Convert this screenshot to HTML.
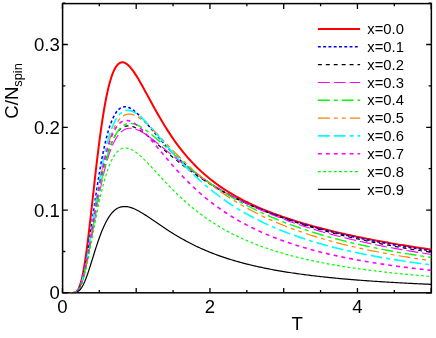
<!DOCTYPE html>
<html><head><meta charset="utf-8"><title>C/Nspin vs T</title>
<style>
html,body{margin:0;padding:0;background:#fff;}
svg{display:block;will-change:transform;}
text{font-family:"Liberation Sans",sans-serif;fill:#000;}
.tl{font-size:18.6px;}
.lg{font-size:14.8px;}
</style></head><body>
<svg width="436" height="338" viewBox="0 0 436 338">
<rect width="436" height="338" fill="#fff"/>
<defs><clipPath id="cp"><rect x="61.85" y="2.85" width="370.25" height="290.70"/></clipPath></defs>
<g fill="none">
<path d="M317.9 29.00 H360.1" stroke="#ff0000" stroke-width="2.0"/>
<path d="M317.9 46.82 H360.1" stroke="#0000ff" stroke-width="1.55" stroke-dasharray="2.9 2.38"/>
<path d="M317.9 64.64 H360.1" stroke="#000000" stroke-width="1.15" stroke-dasharray="3.96 3.96"/>
<path d="M317.9 82.46 H360.1" stroke="#ff00ff" stroke-width="1.1" stroke-dasharray="11.89 3.96"/>
<path d="M317.9 100.28 H360.1" stroke="#00ff00" stroke-width="1.4" stroke-dasharray="11.88 3.96 3.96 3.94"/>
<path d="M317.9 118.10 H360.1" stroke="#ff8000" stroke-width="1.2" stroke-dasharray="11.92 3.98 3.98 3.98 3.98 3.98"/>
<path d="M317.9 135.92 H360.1" stroke="#00ffff" stroke-width="1.6" stroke-dasharray="11.88 3.96 11.88 3.96 3.96 3.95"/>
<path d="M317.9 153.74 H360.1" stroke="#ff00ff" stroke-width="1.6" stroke-dasharray="3.96 3.96"/>
<path d="M317.9 171.56 H360.1" stroke="#00ff00" stroke-width="1.2" stroke-dasharray="2.9 2.38"/>
<path d="M317.9 189.38 H360.1" stroke="#000000" stroke-width="1.2"/>
</g>
<rect x="62.60" y="3.60" width="368.75" height="289.20" fill="none" stroke="#000" stroke-width="1.5"/>
<path d="M62.45 292.80 v-4.90 M62.45 3.60 v5.40 M99.33 292.80 v-2.70 M99.33 3.60 v2.70 M136.20 292.80 v-4.90 M136.20 3.60 v5.40 M173.07 292.80 v-2.70 M173.07 3.60 v2.70 M209.95 292.80 v-4.90 M209.95 3.60 v5.40 M246.82 292.80 v-2.70 M246.82 3.60 v2.70 M283.70 292.80 v-4.90 M283.70 3.60 v5.40 M320.57 292.80 v-2.70 M320.57 3.60 v2.70 M357.45 292.80 v-4.90 M357.45 3.60 v5.40 M394.32 292.80 v-2.70 M394.32 3.60 v2.70 M431.20 292.80 v-4.90 M431.20 3.60 v5.40 M62.60 292.90 h5.20 M431.35 292.90 h-5.20 M62.60 251.50 h2.70 M431.35 251.50 h-2.70 M62.60 210.10 h5.20 M431.35 210.10 h-5.20 M62.60 168.70 h2.70 M431.35 168.70 h-2.70 M62.60 127.30 h5.20 M431.35 127.30 h-5.20 M62.60 85.90 h2.70 M431.35 85.90 h-2.70 M62.60 44.50 h5.20 M431.35 44.50 h-5.20 M62.60 3.10 h2.70 M431.35 3.10 h-2.70" stroke="#000" stroke-width="1.3" fill="none"/>
<g fill="none" stroke-linejoin="round" clip-path="url(#cp)">
<path d="M70.23 292.90 L71.70 292.89 L73.18 292.83 L74.65 292.58 L76.13 291.88 L77.60 290.39 L79.08 287.76 L80.55 283.69 L82.03 278.01 L83.50 270.68 L84.98 261.78 L86.45 251.49 L87.93 240.04 L89.40 227.71 L90.88 214.79 L92.35 201.56 L93.83 188.29 L95.30 175.19 L96.78 162.46 L98.25 150.28 L99.73 138.75 L101.20 127.99 L102.68 118.05 L104.15 108.97 L105.63 100.78 L107.10 93.48 L108.58 87.05 L110.05 81.47 L111.53 76.70 L113.00 72.70 L114.48 69.43 L115.95 66.84 L117.43 64.89 L118.90 63.51 L120.38 62.66 L121.85 62.29 L123.33 62.36 L124.80 62.82 L126.28 63.63 L127.75 64.76 L129.23 66.15 L130.70 67.79 L132.18 69.64 L133.65 71.66 L135.13 73.84 L136.60 76.15 L138.08 78.57 L139.55 81.08 L141.03 83.65 L142.50 86.29 L143.98 88.96 L145.45 91.66 L146.93 94.38 L148.40 97.10 L149.88 99.82 L151.35 102.54 L152.83 105.23 L154.30 107.91 L155.78 110.55 L157.25 113.17 L158.73 115.75 L160.20 118.30 L161.68 120.80 L163.15 123.26 L164.63 125.68 L166.10 128.05 L167.58 130.38 L169.05 132.66 L170.53 134.89 L172.00 137.07 L173.48 139.21 L174.95 141.30 L176.43 143.34 L177.90 145.34 L179.38 147.29 L180.85 149.20 L182.33 151.06 L183.80 152.88 L185.28 154.66 L186.75 156.39 L188.23 158.08 L189.70 159.73 L191.18 161.35 L192.65 162.92 L194.13 164.46 L195.60 165.96 L197.08 167.43 L198.55 168.86 L200.03 170.26 L201.50 171.63 L202.98 172.96 L204.45 174.27 L205.93 175.54 L207.40 176.79 L208.88 178.01 L210.35 179.20 L211.83 180.37 L213.30 181.51 L214.78 182.62 L216.25 183.71 L217.73 184.78 L219.20 185.83 L220.68 186.85 L222.15 187.86 L223.63 188.84 L225.10 189.80 L226.58 190.75 L228.05 191.67 L229.53 192.58 L231.00 193.47 L232.48 194.34 L233.95 195.20 L235.43 196.04 L236.90 196.87 L238.38 197.68 L239.85 198.47 L241.33 199.26 L242.80 200.02 L244.28 200.78 L245.75 201.52 L247.23 202.25 L248.70 202.97 L250.18 203.68 L251.65 204.37 L253.13 205.06 L254.60 205.73 L256.08 206.39 L257.55 207.04 L259.03 207.69 L260.50 208.32 L261.98 208.94 L263.45 209.56 L264.93 210.16 L266.40 210.76 L267.88 211.35 L269.35 211.93 L270.83 212.50 L272.30 213.07 L273.78 213.62 L275.25 214.17 L276.73 214.71 L278.20 215.25 L279.68 215.78 L281.15 216.30 L282.63 216.82 L284.10 217.32 L285.57 217.83 L287.05 218.32 L288.53 218.81 L290.00 219.30 L291.48 219.78 L292.95 220.25 L294.43 220.72 L295.90 221.18 L297.38 221.64 L298.85 222.09 L300.33 222.54 L301.80 222.98 L303.28 223.42 L304.75 223.85 L306.23 224.28 L307.70 224.70 L309.18 225.12 L310.65 225.54 L312.13 225.95 L313.60 226.36 L315.08 226.76 L316.55 227.16 L318.03 227.55 L319.50 227.94 L320.98 228.33 L322.45 228.71 L323.93 229.09 L325.40 229.47 L326.88 229.84 L328.35 230.21 L329.82 230.57 L331.30 230.93 L332.78 231.29 L334.25 231.65 L335.73 232.00 L337.20 232.35 L338.68 232.69 L340.15 233.04 L341.62 233.37 L343.10 233.71 L344.58 234.04 L346.05 234.37 L347.53 234.70 L349.00 235.03 L350.48 235.35 L351.95 235.67 L353.43 235.98 L354.90 236.30 L356.38 236.61 L357.85 236.92 L359.32 237.22 L360.80 237.53 L362.27 237.83 L363.75 238.13 L365.23 238.42 L366.70 238.72 L368.18 239.01 L369.65 239.30 L371.12 239.58 L372.60 239.87 L374.07 240.15 L375.55 240.43 L377.03 240.71 L378.50 240.98 L379.98 241.26 L381.45 241.53 L382.93 241.80 L384.40 242.06 L385.88 242.33 L387.35 242.59 L388.83 242.85 L390.30 243.11 L391.78 243.37 L393.25 243.62 L394.73 243.88 L396.20 244.13 L397.68 244.38 L399.15 244.62 L400.62 244.87 L402.10 245.11 L403.57 245.36 L405.05 245.60 L406.52 245.83 L408.00 246.07 L409.47 246.31 L410.95 246.54 L412.42 246.77 L413.90 247.00 L415.38 247.23 L416.85 247.46 L418.32 247.68 L419.80 247.90 L421.27 248.13 L422.75 248.35 L424.22 248.56 L425.70 248.78 L427.18 249.00 L428.65 249.21 L430.12 249.42 L431.60 249.63" stroke="#ff0000" stroke-width="2.0"/>
<path d="M71.30 292.89 L71.30 292.89 L72.78 292.85 L74.25 292.65 L75.73 292.12 L77.20 290.97 L78.68 288.95 L80.15 285.81 L81.62 281.44 L83.10 275.80 L84.58 268.94 L86.05 261.01 L87.53 252.17 L89.00 242.65 L90.47 232.65 L91.95 222.40 L93.43 212.08 L94.90 201.87 L96.38 191.92 L97.85 182.35 L99.33 173.25 L100.80 164.70 L102.28 156.75 L103.75 149.43 L105.23 142.76 L106.70 136.74 L108.18 131.35 L109.65 126.60 L111.12 122.44 L112.60 118.86 L114.08 115.81 L115.55 113.28 L117.03 111.21 L118.50 109.58 L119.98 108.35 L121.45 107.49 L122.93 106.96 L124.40 106.74 L125.88 106.78 L127.35 107.07 L128.83 107.57 L130.30 108.27 L131.78 109.14 L133.25 110.15 L134.73 111.30 L136.20 112.56 L137.68 113.91 L139.15 115.35 L140.63 116.86 L142.10 118.43 L143.58 120.04 L145.05 121.69 L146.53 123.37 L148.00 125.07 L149.48 126.79 L150.95 128.52 L152.43 130.25 L153.90 131.98 L155.38 133.70 L156.85 135.42 L158.33 137.13 L159.80 138.82 L161.28 140.50 L162.75 142.16 L164.23 143.81 L165.70 145.43 L167.18 147.03 L168.65 148.60 L170.13 150.16 L171.60 151.69 L173.08 153.20 L174.55 154.68 L176.03 156.14 L177.50 157.57 L178.98 158.98 L180.45 160.36 L181.93 161.72 L183.40 163.06 L184.88 164.37 L186.35 165.66 L187.83 166.93 L189.30 168.17 L190.78 169.40 L192.25 170.60 L193.73 171.77 L195.20 172.93 L196.68 174.07 L198.15 175.19 L199.62 176.28 L201.10 177.36 L202.58 178.42 L204.05 179.46 L205.53 180.49 L207.00 181.50 L208.48 182.48 L209.95 183.46 L211.43 184.41 L212.90 185.36 L214.38 186.28 L215.85 187.19 L217.33 188.09 L218.80 188.97 L220.28 189.84 L221.75 190.70 L223.23 191.54 L224.70 192.37 L226.18 193.18 L227.65 193.99 L229.13 194.78 L230.60 195.56 L232.08 196.33 L233.55 197.09 L235.03 197.84 L236.50 198.58 L237.98 199.31 L239.45 200.02 L240.93 200.73 L242.40 201.43 L243.88 202.12 L245.35 202.80 L246.83 203.47 L248.30 204.13 L249.78 204.79 L251.25 205.43 L252.73 206.07 L254.20 206.70 L255.68 207.32 L257.15 207.94 L258.63 208.55 L260.10 209.15 L261.58 209.74 L263.05 210.33 L264.53 210.90 L266.00 211.48 L267.48 212.04 L268.95 212.60 L270.43 213.16 L271.90 213.70 L273.38 214.25 L274.85 214.78 L276.33 215.31 L277.80 215.83 L279.28 216.35 L280.75 216.86 L282.23 217.37 L283.70 217.87 L285.18 218.37 L286.65 218.86 L288.13 219.35 L289.60 219.83 L291.08 220.31 L292.55 220.78 L294.03 221.25 L295.50 221.71 L296.98 222.17 L298.45 222.62 L299.93 223.07 L301.40 223.51 L302.88 223.95 L304.35 224.39 L305.83 224.82 L307.30 225.25 L308.78 225.67 L310.25 226.09 L311.73 226.51 L313.20 226.92 L314.68 227.33 L316.15 227.73 L317.63 228.14 L319.10 228.53 L320.58 228.93 L322.05 229.32 L323.53 229.70 L325.00 230.09 L326.48 230.47 L327.95 230.84 L329.43 231.22 L330.90 231.59 L332.38 231.95 L333.85 232.32 L335.33 232.68 L336.80 233.03 L338.28 233.39 L339.75 233.74 L341.23 234.09 L342.70 234.43 L344.18 234.77 L345.65 235.11 L347.13 235.45 L348.60 235.78 L350.08 236.11 L351.55 236.44 L353.03 236.76 L354.50 237.09 L355.98 237.41 L357.45 237.72 L358.93 238.04 L360.40 238.35 L361.88 238.66 L363.35 238.97 L364.83 239.27 L366.30 239.57 L367.78 239.87 L369.25 240.17 L370.73 240.47 L372.20 240.76 L373.68 241.05 L375.15 241.34 L376.63 241.62 L378.10 241.90 L379.58 242.18 L381.05 242.46 L382.53 242.74 L384.00 243.01 L385.48 243.29 L386.95 243.56 L388.43 243.83 L389.90 244.09 L391.38 244.36 L392.85 244.62 L394.33 244.88 L395.80 245.13 L397.28 245.39 L398.75 245.64 L400.22 245.90 L401.70 246.15 L403.18 246.39 L404.65 246.64 L406.12 246.89 L407.60 247.13 L409.07 247.37 L410.55 247.61 L412.02 247.85 L413.50 248.08 L414.98 248.31 L416.45 248.55 L417.93 248.78 L419.40 249.01 L420.88 249.23 L422.35 249.46 L423.82 249.68 L425.30 249.90 L426.78 250.12 L428.25 250.34 L429.73 250.56 L431.20 250.77" stroke="#0000ff" stroke-width="1.55" stroke-dasharray="2.9 2.38" stroke-dashoffset="1.475"/>
<path d="M71.30 292.89 L71.30 292.89 L72.78 292.85 L74.25 292.69 L75.73 292.23 L77.20 291.26 L78.68 289.53 L80.15 286.86 L81.62 283.13 L83.10 278.32 L84.58 272.46 L86.05 265.68 L87.53 258.13 L89.00 249.98 L90.47 241.41 L91.95 232.60 L93.43 223.72 L94.90 214.90 L96.38 206.28 L97.85 197.95 L99.33 190.00 L100.80 182.48 L102.28 175.44 L103.75 168.91 L105.23 162.91 L106.70 157.43 L108.18 152.48 L109.65 148.03 L111.12 144.08 L112.60 140.60 L114.08 137.56 L115.55 134.95 L117.03 132.73 L118.50 130.87 L119.98 129.36 L121.45 128.15 L122.93 127.23 L124.40 126.57 L125.88 126.15 L127.35 125.93 L128.83 125.92 L130.30 126.07 L131.78 126.38 L133.25 126.83 L134.73 127.41 L136.20 128.09 L137.68 128.87 L139.15 129.73 L140.63 130.66 L142.10 131.66 L143.58 132.72 L145.05 133.82 L146.53 134.97 L148.00 136.14 L149.48 137.35 L150.95 138.58 L152.43 139.82 L153.90 141.08 L155.38 142.35 L156.85 143.63 L158.33 144.91 L159.80 146.20 L161.28 147.48 L162.75 148.76 L164.23 150.04 L165.70 151.31 L167.18 152.57 L168.65 153.82 L170.13 155.07 L171.60 156.31 L173.08 157.53 L174.55 158.75 L176.03 159.95 L177.50 161.14 L178.98 162.32 L180.45 163.48 L181.93 164.63 L183.40 165.77 L184.88 166.90 L186.35 168.01 L187.83 169.11 L189.30 170.19 L190.78 171.27 L192.25 172.32 L193.73 173.37 L195.20 174.40 L196.68 175.42 L198.15 176.43 L199.62 177.42 L201.10 178.40 L202.58 179.37 L204.05 180.33 L205.53 181.28 L207.00 182.21 L208.48 183.13 L209.95 184.04 L211.43 184.94 L212.90 185.83 L214.38 186.70 L215.85 187.57 L217.33 188.42 L218.80 189.27 L220.28 190.10 L221.75 190.93 L223.23 191.74 L224.70 192.54 L226.18 193.34 L227.65 194.13 L229.13 194.90 L230.60 195.67 L232.08 196.43 L233.55 197.18 L235.03 197.92 L236.50 198.65 L237.98 199.37 L239.45 200.09 L240.93 200.80 L242.40 201.50 L243.88 202.19 L245.35 202.87 L246.83 203.55 L248.30 204.22 L249.78 204.88 L251.25 205.53 L252.73 206.18 L254.20 206.82 L255.68 207.45 L257.15 208.08 L258.63 208.70 L260.10 209.31 L261.58 209.92 L263.05 210.52 L264.53 211.12 L266.00 211.70 L267.48 212.29 L268.95 212.86 L270.43 213.43 L271.90 214.00 L273.38 214.55 L274.85 215.11 L276.33 215.65 L277.80 216.20 L279.28 216.73 L280.75 217.26 L282.23 217.79 L283.70 218.31 L285.18 218.82 L286.65 219.33 L288.13 219.84 L289.60 220.34 L291.08 220.83 L292.55 221.32 L294.03 221.81 L295.50 222.29 L296.98 222.77 L298.45 223.24 L299.93 223.71 L301.40 224.17 L302.88 224.63 L304.35 225.08 L305.83 225.53 L307.30 225.98 L308.78 226.42 L310.25 226.86 L311.73 227.29 L313.20 227.72 L314.68 228.14 L316.15 228.57 L317.63 228.98 L319.10 229.40 L320.58 229.81 L322.05 230.21 L323.53 230.61 L325.00 231.01 L326.48 231.41 L327.95 231.80 L329.43 232.19 L330.90 232.57 L332.38 232.95 L333.85 233.33 L335.33 233.71 L336.80 234.08 L338.28 234.44 L339.75 234.81 L341.23 235.17 L342.70 235.53 L344.18 235.88 L345.65 236.24 L347.13 236.58 L348.60 236.93 L350.08 237.27 L351.55 237.61 L353.03 237.95 L354.50 238.28 L355.98 238.61 L357.45 238.94 L358.93 239.27 L360.40 239.59 L361.88 239.91 L363.35 240.23 L364.83 240.54 L366.30 240.85 L367.78 241.16 L369.25 241.47 L370.73 241.77 L372.20 242.08 L373.68 242.37 L375.15 242.67 L376.63 242.97 L378.10 243.26 L379.58 243.55 L381.05 243.83 L382.53 244.12 L384.00 244.40 L385.48 244.68 L386.95 244.96 L388.43 245.23 L389.90 245.50 L391.38 245.78 L392.85 246.04 L394.33 246.31 L395.80 246.57 L397.28 246.84 L398.75 247.10 L400.22 247.35 L401.70 247.61 L403.18 247.86 L404.65 248.12 L406.12 248.37 L407.60 248.61 L409.07 248.86 L410.55 249.10 L412.02 249.34 L413.50 249.58 L414.98 249.82 L416.45 250.06 L417.93 250.29 L419.40 250.53 L420.88 250.76 L422.35 250.99 L423.82 251.21 L425.30 251.44 L426.78 251.66 L428.25 251.88 L429.73 252.10 L431.20 252.32" stroke="#000000" stroke-width="1.15" stroke-dasharray="3.96 3.96" stroke-dashoffset="1.475"/>
<path d="M71.30 292.89 L71.30 292.89 L72.78 292.86 L74.25 292.70 L75.73 292.26 L77.20 291.33 L78.68 289.68 L80.15 287.13 L81.62 283.57 L83.10 278.97 L84.58 273.37 L86.05 266.89 L87.53 259.67 L89.00 251.86 L90.47 243.65 L91.95 235.19 L93.43 226.65 L94.90 218.16 L96.38 209.84 L97.85 201.78 L99.33 194.06 L100.80 186.74 L102.28 179.86 L103.75 173.45 L105.23 167.52 L106.70 162.08 L108.18 157.13 L109.65 152.65 L111.12 148.64 L112.60 145.07 L114.08 141.91 L115.55 139.16 L117.03 136.78 L118.50 134.75 L119.98 133.04 L121.45 131.63 L122.93 130.49 L124.40 129.61 L125.88 128.96 L127.35 128.52 L128.83 128.28 L130.30 128.21 L131.78 128.29 L133.25 128.52 L134.73 128.87 L136.20 129.34 L137.68 129.91 L139.15 130.57 L140.63 131.32 L142.10 132.13 L143.58 133.01 L145.05 133.94 L146.53 134.93 L148.00 135.95 L149.48 137.01 L150.95 138.10 L152.43 139.22 L153.90 140.36 L155.38 141.52 L156.85 142.70 L158.33 143.89 L159.80 145.09 L161.28 146.29 L162.75 147.50 L164.23 148.71 L165.70 149.92 L167.18 151.14 L168.65 152.35 L170.13 153.55 L171.60 154.76 L173.08 155.96 L174.55 157.15 L176.03 158.33 L177.50 159.51 L178.98 160.68 L180.45 161.84 L181.93 162.99 L183.40 164.14 L184.88 165.27 L186.35 166.39 L187.83 167.51 L189.30 168.61 L190.78 169.70 L192.25 170.78 L193.73 171.85 L195.20 172.91 L196.68 173.96 L198.15 175.00 L199.62 176.03 L201.10 177.04 L202.58 178.05 L204.05 179.04 L205.53 180.03 L207.00 181.00 L208.48 181.96 L209.95 182.92 L211.43 183.86 L212.90 184.79 L214.38 185.71 L215.85 186.62 L217.33 187.52 L218.80 188.41 L220.28 189.29 L221.75 190.16 L223.23 191.02 L224.70 191.88 L226.18 192.72 L227.65 193.55 L229.13 194.37 L230.60 195.19 L232.08 195.99 L233.55 196.79 L235.03 197.58 L236.50 198.35 L237.98 199.12 L239.45 199.88 L240.93 200.64 L242.40 201.38 L243.88 202.12 L245.35 202.85 L246.83 203.57 L248.30 204.28 L249.78 204.98 L251.25 205.68 L252.73 206.37 L254.20 207.05 L255.68 207.73 L257.15 208.39 L258.63 209.05 L260.10 209.71 L261.58 210.35 L263.05 210.99 L264.53 211.62 L266.00 212.25 L267.48 212.87 L268.95 213.48 L270.43 214.08 L271.90 214.68 L273.38 215.28 L274.85 215.86 L276.33 216.44 L277.80 217.02 L279.28 217.59 L280.75 218.15 L282.23 218.71 L283.70 219.26 L285.18 219.80 L286.65 220.34 L288.13 220.87 L289.60 221.40 L291.08 221.93 L292.55 222.44 L294.03 222.96 L295.50 223.46 L296.98 223.97 L298.45 224.46 L299.93 224.95 L301.40 225.44 L302.88 225.92 L304.35 226.40 L305.83 226.87 L307.30 227.34 L308.78 227.81 L310.25 228.26 L311.73 228.72 L313.20 229.17 L314.68 229.61 L316.15 230.05 L317.63 230.49 L319.10 230.92 L320.58 231.35 L322.05 231.77 L323.53 232.19 L325.00 232.61 L326.48 233.02 L327.95 233.43 L329.43 233.83 L330.90 234.23 L332.38 234.63 L333.85 235.02 L335.33 235.41 L336.80 235.79 L338.28 236.18 L339.75 236.55 L341.23 236.93 L342.70 237.30 L344.18 237.66 L345.65 238.03 L347.13 238.39 L348.60 238.75 L350.08 239.10 L351.55 239.45 L353.03 239.80 L354.50 240.14 L355.98 240.48 L357.45 240.82 L358.93 241.15 L360.40 241.48 L361.88 241.81 L363.35 242.14 L364.83 242.46 L366.30 242.78 L367.78 243.10 L369.25 243.41 L370.73 243.72 L372.20 244.03 L373.68 244.34 L375.15 244.64 L376.63 244.94 L378.10 245.24 L379.58 245.53 L381.05 245.82 L382.53 246.11 L384.00 246.40 L385.48 246.68 L386.95 246.97 L388.43 247.24 L389.90 247.52 L391.38 247.80 L392.85 248.07 L394.33 248.34 L395.80 248.61 L397.28 248.87 L398.75 249.13 L400.22 249.40 L401.70 249.65 L403.18 249.91 L404.65 250.16 L406.12 250.42 L407.60 250.67 L409.07 250.91 L410.55 251.16 L412.02 251.40 L413.50 251.65 L414.98 251.89 L416.45 252.12 L417.93 252.36 L419.40 252.59 L420.88 252.82 L422.35 253.05 L423.82 253.28 L425.30 253.51 L426.78 253.73 L428.25 253.95 L429.73 254.17 L431.20 254.39" stroke="#ff00ff" stroke-width="1.1" stroke-dasharray="11.89 3.96" stroke-dashoffset="1.475"/>
<path d="M71.30 292.89 L71.30 292.89 L72.78 292.85 L74.25 292.69 L75.73 292.25 L77.20 291.29 L78.68 289.60 L80.15 286.99 L81.62 283.34 L83.10 278.63 L84.58 272.90 L86.05 266.26 L87.53 258.86 L89.00 250.86 L90.47 242.44 L91.95 233.77 L93.43 225.01 L94.90 216.30 L96.38 207.75 L97.85 199.47 L99.33 191.53 L100.80 184.00 L102.28 176.91 L103.75 170.30 L105.23 164.19 L106.70 158.57 L108.18 153.45 L109.65 148.81 L111.12 144.65 L112.60 140.94 L114.08 137.67 L115.55 134.81 L117.03 132.33 L118.50 130.21 L119.98 128.42 L121.45 126.95 L122.93 125.77 L124.40 124.85 L125.88 124.17 L127.35 123.71 L128.83 123.46 L130.30 123.39 L131.78 123.49 L133.25 123.73 L134.73 124.12 L136.20 124.62 L137.68 125.24 L139.15 125.95 L140.63 126.75 L142.10 127.63 L143.58 128.58 L145.05 129.59 L146.53 130.65 L148.00 131.76 L149.48 132.91 L150.95 134.10 L152.43 135.31 L153.90 136.56 L155.38 137.82 L156.85 139.10 L158.33 140.39 L159.80 141.70 L161.28 143.02 L162.75 144.34 L164.23 145.66 L165.70 146.99 L167.18 148.32 L168.65 149.65 L170.13 150.97 L171.60 152.29 L173.08 153.60 L174.55 154.91 L176.03 156.21 L177.50 157.51 L178.98 158.79 L180.45 160.07 L181.93 161.33 L183.40 162.59 L184.88 163.83 L186.35 165.07 L187.83 166.29 L189.30 167.50 L190.78 168.70 L192.25 169.88 L193.73 171.06 L195.20 172.22 L196.68 173.37 L198.15 174.51 L199.62 175.64 L201.10 176.75 L202.58 177.85 L204.05 178.94 L205.53 180.01 L207.00 181.08 L208.48 182.13 L209.95 183.17 L211.43 184.20 L212.90 185.21 L214.38 186.21 L215.85 187.21 L217.33 188.19 L218.80 189.15 L220.28 190.11 L221.75 191.05 L223.23 191.99 L224.70 192.91 L226.18 193.82 L227.65 194.72 L229.13 195.61 L230.60 196.49 L232.08 197.36 L233.55 198.22 L235.03 199.07 L236.50 199.90 L237.98 200.73 L239.45 201.55 L240.93 202.36 L242.40 203.15 L243.88 203.94 L245.35 204.72 L246.83 205.49 L248.30 206.25 L249.78 207.00 L251.25 207.75 L252.73 208.48 L254.20 209.21 L255.68 209.92 L257.15 210.63 L258.63 211.33 L260.10 212.02 L261.58 212.71 L263.05 213.38 L264.53 214.05 L266.00 214.71 L267.48 215.36 L268.95 216.01 L270.43 216.64 L271.90 217.27 L273.38 217.90 L274.85 218.51 L276.33 219.12 L277.80 219.72 L279.28 220.32 L280.75 220.90 L282.23 221.48 L283.70 222.06 L285.18 222.63 L286.65 223.19 L288.13 223.74 L289.60 224.29 L291.08 224.84 L292.55 225.37 L294.03 225.90 L295.50 226.43 L296.98 226.95 L298.45 227.46 L299.93 227.97 L301.40 228.47 L302.88 228.97 L304.35 229.46 L305.83 229.95 L307.30 230.43 L308.78 230.90 L310.25 231.37 L311.73 231.84 L313.20 232.30 L314.68 232.76 L316.15 233.21 L317.63 233.65 L319.10 234.09 L320.58 234.53 L322.05 234.96 L323.53 235.39 L325.00 235.81 L326.48 236.23 L327.95 236.64 L329.43 237.05 L330.90 237.46 L332.38 237.86 L333.85 238.26 L335.33 238.65 L336.80 239.04 L338.28 239.42 L339.75 239.81 L341.23 240.18 L342.70 240.56 L344.18 240.93 L345.65 241.29 L347.13 241.65 L348.60 242.01 L350.08 242.37 L351.55 242.72 L353.03 243.07 L354.50 243.41 L355.98 243.75 L357.45 244.09 L358.93 244.42 L360.40 244.75 L361.88 245.08 L363.35 245.41 L364.83 245.73 L366.30 246.05 L367.78 246.36 L369.25 246.67 L370.73 246.98 L372.20 247.29 L373.68 247.59 L375.15 247.89 L376.63 248.19 L378.10 248.48 L379.58 248.77 L381.05 249.06 L382.53 249.35 L384.00 249.63 L385.48 249.91 L386.95 250.19 L388.43 250.47 L389.90 250.74 L391.38 251.01 L392.85 251.28 L394.33 251.54 L395.80 251.81 L397.28 252.07 L398.75 252.33 L400.22 252.58 L401.70 252.84 L403.18 253.09 L404.65 253.34 L406.12 253.58 L407.60 253.83 L409.07 254.07 L410.55 254.31 L412.02 254.55 L413.50 254.78 L414.98 255.02 L416.45 255.25 L417.93 255.48 L419.40 255.71 L420.88 255.93 L422.35 256.15 L423.82 256.38 L425.30 256.60 L426.78 256.81 L428.25 257.03 L429.73 257.24 L431.20 257.45" stroke="#00ff00" stroke-width="1.4" stroke-dasharray="11.88 3.96 3.96 3.94" stroke-dashoffset="1.475"/>
<path d="M71.30 292.89 L71.30 292.89 L72.78 292.85 L74.25 292.68 L75.73 292.20 L77.20 291.18 L78.68 289.38 L80.15 286.59 L81.62 282.70 L83.10 277.67 L84.58 271.56 L86.05 264.47 L87.53 256.57 L89.00 248.04 L90.47 239.06 L91.95 229.82 L93.43 220.48 L94.90 211.19 L96.38 202.09 L97.85 193.28 L99.33 184.84 L100.80 176.83 L102.28 169.31 L103.75 162.31 L105.23 155.84 L106.70 149.90 L108.18 144.51 L109.65 139.64 L111.12 135.28 L112.60 131.42 L114.08 128.02 L115.55 125.07 L117.03 122.53 L118.50 120.39 L119.98 118.61 L121.45 117.16 L122.93 116.03 L124.40 115.18 L125.88 114.60 L127.35 114.26 L128.83 114.13 L130.30 114.21 L131.78 114.46 L133.25 114.88 L134.73 115.44 L136.20 116.14 L137.68 116.95 L139.15 117.87 L140.63 118.88 L142.10 119.98 L143.58 121.15 L145.05 122.38 L146.53 123.67 L148.00 125.01 L149.48 126.39 L150.95 127.80 L152.43 129.25 L153.90 130.72 L155.38 132.21 L156.85 133.72 L158.33 135.24 L159.80 136.77 L161.28 138.31 L162.75 139.85 L164.23 141.39 L165.70 142.93 L167.18 144.47 L168.65 146.00 L170.13 147.53 L171.60 149.05 L173.08 150.56 L174.55 152.07 L176.03 153.56 L177.50 155.04 L178.98 156.50 L180.45 157.96 L181.93 159.40 L183.40 160.83 L184.88 162.24 L186.35 163.64 L187.83 165.02 L189.30 166.39 L190.78 167.74 L192.25 169.07 L193.73 170.39 L195.20 171.70 L196.68 172.99 L198.15 174.26 L199.62 175.52 L201.10 176.76 L202.58 177.99 L204.05 179.20 L205.53 180.39 L207.00 181.57 L208.48 182.73 L209.95 183.88 L211.43 185.01 L212.90 186.13 L214.38 187.23 L215.85 188.32 L217.33 189.40 L218.80 190.46 L220.28 191.50 L221.75 192.53 L223.23 193.55 L224.70 194.55 L226.18 195.55 L227.65 196.52 L229.13 197.49 L230.60 198.44 L232.08 199.38 L233.55 200.30 L235.03 201.21 L236.50 202.12 L237.98 203.00 L239.45 203.88 L240.93 204.75 L242.40 205.60 L243.88 206.44 L245.35 207.27 L246.83 208.09 L248.30 208.90 L249.78 209.70 L251.25 210.49 L252.73 211.27 L254.20 212.04 L255.68 212.79 L257.15 213.54 L258.63 214.28 L260.10 215.01 L261.58 215.73 L263.05 216.43 L264.53 217.14 L266.00 217.83 L267.48 218.51 L268.95 219.18 L270.43 219.85 L271.90 220.50 L273.38 221.15 L274.85 221.79 L276.33 222.42 L277.80 223.05 L279.28 223.66 L280.75 224.27 L282.23 224.87 L283.70 225.47 L285.18 226.05 L286.65 226.63 L288.13 227.20 L289.60 227.77 L291.08 228.33 L292.55 228.88 L294.03 229.42 L295.50 229.96 L296.98 230.49 L298.45 231.02 L299.93 231.53 L301.40 232.05 L302.88 232.55 L304.35 233.05 L305.83 233.55 L307.30 234.03 L308.78 234.52 L310.25 234.99 L311.73 235.47 L313.20 235.93 L314.68 236.39 L316.15 236.85 L317.63 237.30 L319.10 237.74 L320.58 238.18 L322.05 238.61 L323.53 239.04 L325.00 239.47 L326.48 239.89 L327.95 240.30 L329.43 240.71 L330.90 241.12 L332.38 241.52 L333.85 241.92 L335.33 242.31 L336.80 242.70 L338.28 243.08 L339.75 243.46 L341.23 243.83 L342.70 244.21 L344.18 244.57 L345.65 244.93 L347.13 245.29 L348.60 245.65 L350.08 246.00 L351.55 246.35 L353.03 246.69 L354.50 247.03 L355.98 247.37 L357.45 247.70 L358.93 248.03 L360.40 248.36 L361.88 248.68 L363.35 249.00 L364.83 249.31 L366.30 249.62 L367.78 249.93 L369.25 250.24 L370.73 250.54 L372.20 250.84 L373.68 251.14 L375.15 251.43 L376.63 251.72 L378.10 252.01 L379.58 252.29 L381.05 252.58 L382.53 252.86 L384.00 253.13 L385.48 253.40 L386.95 253.67 L388.43 253.94 L389.90 254.21 L391.38 254.47 L392.85 254.73 L394.33 254.99 L395.80 255.24 L397.28 255.49 L398.75 255.74 L400.22 255.99 L401.70 256.24 L403.18 256.48 L404.65 256.72 L406.12 256.96 L407.60 257.19 L409.07 257.43 L410.55 257.66 L412.02 257.89 L413.50 258.11 L414.98 258.34 L416.45 258.56 L417.93 258.78 L419.40 259.00 L420.88 259.22 L422.35 259.43 L423.82 259.64 L425.30 259.85 L426.78 260.06 L428.25 260.27 L429.73 260.47 L431.20 260.68" stroke="#ff8000" stroke-width="1.2" stroke-dasharray="11.92 3.98 3.98 3.98 3.98 3.98" stroke-dashoffset="1.475"/>
<path d="M71.30 292.89 L71.30 292.89 L72.78 292.85 L74.25 292.67 L75.73 292.17 L77.20 291.12 L78.68 289.24 L80.15 286.34 L81.62 282.30 L83.10 277.07 L84.58 270.71 L86.05 263.35 L87.53 255.14 L89.00 246.28 L90.47 236.96 L91.95 227.36 L93.43 217.68 L94.90 208.06 L96.38 198.64 L97.85 189.53 L99.33 180.81 L100.80 172.56 L102.28 164.83 L103.75 157.64 L105.23 151.01 L106.70 144.96 L108.18 139.47 L109.65 134.55 L111.12 130.16 L112.60 126.30 L114.08 122.92 L115.55 120.02 L117.03 117.56 L118.50 115.51 L119.98 113.84 L121.45 112.53 L122.93 111.55 L124.40 110.86 L125.88 110.46 L127.35 110.30 L128.83 110.37 L130.30 110.65 L131.78 111.12 L133.25 111.75 L134.73 112.54 L136.20 113.46 L137.68 114.51 L139.15 115.66 L140.63 116.90 L142.10 118.23 L143.58 119.63 L145.05 121.10 L146.53 122.62 L148.00 124.18 L149.48 125.79 L150.95 127.43 L152.43 129.09 L153.90 130.78 L155.38 132.49 L156.85 134.21 L158.33 135.93 L159.80 137.66 L161.28 139.40 L162.75 141.13 L164.23 142.86 L165.70 144.59 L167.18 146.31 L168.65 148.01 L170.13 149.71 L171.60 151.40 L173.08 153.07 L174.55 154.73 L176.03 156.37 L177.50 158.00 L178.98 159.61 L180.45 161.20 L181.93 162.77 L183.40 164.33 L184.88 165.86 L186.35 167.38 L187.83 168.88 L189.30 170.36 L190.78 171.82 L192.25 173.26 L193.73 174.68 L195.20 176.08 L196.68 177.46 L198.15 178.82 L199.62 180.16 L201.10 181.49 L202.58 182.79 L204.05 184.08 L205.53 185.34 L207.00 186.59 L208.48 187.82 L209.95 189.03 L211.43 190.23 L212.90 191.40 L214.38 192.56 L215.85 193.70 L217.33 194.82 L218.80 195.93 L220.28 197.02 L221.75 198.10 L223.23 199.15 L224.70 200.19 L226.18 201.22 L227.65 202.23 L229.13 203.23 L230.60 204.21 L232.08 205.18 L233.55 206.13 L235.03 207.07 L236.50 207.99 L237.98 208.90 L239.45 209.80 L240.93 210.68 L242.40 211.55 L243.88 212.41 L245.35 213.25 L246.83 214.09 L248.30 214.91 L249.78 215.71 L251.25 216.51 L252.73 217.30 L254.20 218.07 L255.68 218.83 L257.15 219.58 L258.63 220.33 L260.10 221.06 L261.58 221.78 L263.05 222.49 L264.53 223.19 L266.00 223.88 L267.48 224.56 L268.95 225.23 L270.43 225.89 L271.90 226.54 L273.38 227.18 L274.85 227.82 L276.33 228.44 L277.80 229.06 L279.28 229.67 L280.75 230.27 L282.23 230.86 L283.70 231.44 L285.18 232.02 L286.65 232.59 L288.13 233.15 L289.60 233.70 L291.08 234.25 L292.55 234.79 L294.03 235.32 L295.50 235.84 L296.98 236.36 L298.45 236.87 L299.93 237.38 L301.40 237.87 L302.88 238.36 L304.35 238.85 L305.83 239.33 L307.30 239.80 L308.78 240.27 L310.25 240.73 L311.73 241.18 L313.20 241.63 L314.68 242.07 L316.15 242.51 L317.63 242.94 L319.10 243.37 L320.58 243.79 L322.05 244.21 L323.53 244.62 L325.00 245.03 L326.48 245.43 L327.95 245.82 L329.43 246.22 L330.90 246.60 L332.38 246.98 L333.85 247.36 L335.33 247.74 L336.80 248.10 L338.28 248.47 L339.75 248.83 L341.23 249.18 L342.70 249.54 L344.18 249.88 L345.65 250.23 L347.13 250.57 L348.60 250.90 L350.08 251.23 L351.55 251.56 L353.03 251.88 L354.50 252.20 L355.98 252.52 L357.45 252.83 L358.93 253.14 L360.40 253.45 L361.88 253.75 L363.35 254.05 L364.83 254.35 L366.30 254.64 L367.78 254.93 L369.25 255.21 L370.73 255.50 L372.20 255.78 L373.68 256.05 L375.15 256.33 L376.63 256.60 L378.10 256.87 L379.58 257.13 L381.05 257.39 L382.53 257.65 L384.00 257.91 L385.48 258.16 L386.95 258.41 L388.43 258.66 L389.90 258.91 L391.38 259.15 L392.85 259.39 L394.33 259.63 L395.80 259.86 L397.28 260.10 L398.75 260.33 L400.22 260.56 L401.70 260.78 L403.18 261.01 L404.65 261.23 L406.12 261.45 L407.60 261.66 L409.07 261.88 L410.55 262.09 L412.02 262.30 L413.50 262.51 L414.98 262.72 L416.45 262.92 L417.93 263.12 L419.40 263.32 L420.88 263.52 L422.35 263.72 L423.82 263.91 L425.30 264.10 L426.78 264.29 L428.25 264.48 L429.73 264.67 L431.20 264.85" stroke="#00ffff" stroke-width="1.6" stroke-dasharray="11.88 3.96 11.88 3.96 3.96 3.95" stroke-dashoffset="1.475"/>
<path d="M71.30 292.89 L71.30 292.89 L72.78 292.85 L74.25 292.68 L75.73 292.20 L77.20 291.19 L78.68 289.38 L80.15 286.60 L81.62 282.71 L83.10 277.68 L84.58 271.58 L86.05 264.50 L87.53 256.62 L89.00 248.11 L90.47 239.17 L91.95 229.97 L93.43 220.69 L94.90 211.48 L96.38 202.47 L97.85 193.76 L99.33 185.45 L100.80 177.59 L102.28 170.24 L103.75 163.43 L105.23 157.17 L106.70 151.47 L108.18 146.32 L109.65 141.72 L111.12 137.65 L112.60 134.08 L114.08 131.00 L115.55 128.38 L117.03 126.18 L118.50 124.39 L119.98 122.96 L121.45 121.89 L122.93 121.12 L124.40 120.65 L125.88 120.45 L127.35 120.49 L128.83 120.75 L130.30 121.20 L131.78 121.84 L133.25 122.64 L134.73 123.58 L136.20 124.64 L137.68 125.82 L139.15 127.10 L140.63 128.47 L142.10 129.92 L143.58 131.43 L145.05 133.00 L146.53 134.61 L148.00 136.27 L149.48 137.96 L150.95 139.68 L152.43 141.42 L153.90 143.18 L155.38 144.95 L156.85 146.72 L158.33 148.50 L159.80 150.28 L161.28 152.06 L162.75 153.84 L164.23 155.60 L165.70 157.36 L167.18 159.10 L168.65 160.83 L170.13 162.55 L171.60 164.25 L173.08 165.93 L174.55 167.60 L176.03 169.25 L177.50 170.87 L178.98 172.48 L180.45 174.07 L181.93 175.64 L183.40 177.18 L184.88 178.71 L186.35 180.21 L187.83 181.69 L189.30 183.15 L190.78 184.59 L192.25 186.00 L193.73 187.40 L195.20 188.77 L196.68 190.12 L198.15 191.45 L199.62 192.76 L201.10 194.05 L202.58 195.32 L204.05 196.56 L205.53 197.79 L207.00 199.00 L208.48 200.19 L209.95 201.35 L211.43 202.50 L212.90 203.63 L214.38 204.75 L215.85 205.84 L217.33 206.92 L218.80 207.97 L220.28 209.01 L221.75 210.04 L223.23 211.04 L224.70 212.03 L226.18 213.01 L227.65 213.97 L229.13 214.91 L230.60 215.84 L232.08 216.75 L233.55 217.64 L235.03 218.53 L236.50 219.39 L237.98 220.25 L239.45 221.09 L240.93 221.92 L242.40 222.73 L243.88 223.53 L245.35 224.32 L246.83 225.09 L248.30 225.86 L249.78 226.61 L251.25 227.35 L252.73 228.07 L254.20 228.79 L255.68 229.50 L257.15 230.19 L258.63 230.87 L260.10 231.55 L261.58 232.21 L263.05 232.86 L264.53 233.50 L266.00 234.13 L267.48 234.76 L268.95 235.37 L270.43 235.97 L271.90 236.57 L273.38 237.16 L274.85 237.73 L276.33 238.30 L277.80 238.86 L279.28 239.42 L280.75 239.96 L282.23 240.50 L283.70 241.02 L285.18 241.54 L286.65 242.06 L288.13 242.56 L289.60 243.06 L291.08 243.55 L292.55 244.04 L294.03 244.52 L295.50 244.99 L296.98 245.45 L298.45 245.91 L299.93 246.36 L301.40 246.80 L302.88 247.24 L304.35 247.68 L305.83 248.10 L307.30 248.52 L308.78 248.94 L310.25 249.35 L311.73 249.75 L313.20 250.15 L314.68 250.55 L316.15 250.93 L317.63 251.32 L319.10 251.69 L320.58 252.07 L322.05 252.43 L323.53 252.80 L325.00 253.16 L326.48 253.51 L327.95 253.86 L329.43 254.20 L330.90 254.54 L332.38 254.88 L333.85 255.21 L335.33 255.54 L336.80 255.86 L338.28 256.18 L339.75 256.49 L341.23 256.81 L342.70 257.11 L344.18 257.42 L345.65 257.72 L347.13 258.01 L348.60 258.30 L350.08 258.59 L351.55 258.88 L353.03 259.16 L354.50 259.44 L355.98 259.71 L357.45 259.98 L358.93 260.25 L360.40 260.52 L361.88 260.78 L363.35 261.04 L364.83 261.29 L366.30 261.55 L367.78 261.80 L369.25 262.04 L370.73 262.29 L372.20 262.53 L373.68 262.77 L375.15 263.00 L376.63 263.23 L378.10 263.46 L379.58 263.69 L381.05 263.92 L382.53 264.14 L384.00 264.36 L385.48 264.58 L386.95 264.79 L388.43 265.00 L389.90 265.22 L391.38 265.42 L392.85 265.63 L394.33 265.83 L395.80 266.03 L397.28 266.23 L398.75 266.43 L400.22 266.62 L401.70 266.82 L403.18 267.01 L404.65 267.20 L406.12 267.38 L407.60 267.57 L409.07 267.75 L410.55 267.93 L412.02 268.11 L413.50 268.28 L414.98 268.46 L416.45 268.63 L417.93 268.80 L419.40 268.97 L420.88 269.14 L422.35 269.31 L423.82 269.47 L425.30 269.63 L426.78 269.79 L428.25 269.95 L429.73 270.11 L431.20 270.27" stroke="#ff00ff" stroke-width="1.6" stroke-dasharray="3.96 3.96" stroke-dashoffset="1.475"/>
<path d="M71.30 292.89 L71.30 292.89 L72.78 292.86 L74.25 292.71 L75.73 292.31 L77.20 291.44 L78.68 289.90 L80.15 287.52 L81.62 284.20 L83.10 279.92 L84.58 274.71 L86.05 268.67 L87.53 261.95 L89.00 254.70 L90.47 247.08 L91.95 239.25 L93.43 231.35 L94.90 223.52 L96.38 215.86 L97.85 208.48 L99.33 201.43 L100.80 194.79 L102.28 188.58 L103.75 182.84 L105.23 177.58 L106.70 172.81 L108.18 168.52 L109.65 164.70 L111.12 161.33 L112.60 158.41 L114.08 155.90 L115.55 153.79 L117.03 152.04 L118.50 150.64 L119.98 149.56 L121.45 148.78 L122.93 148.27 L124.40 148.01 L125.88 147.98 L127.35 148.15 L128.83 148.51 L130.30 149.04 L131.78 149.72 L133.25 150.54 L134.73 151.48 L136.20 152.52 L137.68 153.66 L139.15 154.88 L140.63 156.17 L142.10 157.53 L143.58 158.93 L145.05 160.39 L146.53 161.88 L148.00 163.40 L149.48 164.95 L150.95 166.52 L152.43 168.10 L153.90 169.69 L155.38 171.29 L156.85 172.90 L158.33 174.50 L159.80 176.10 L161.28 177.69 L162.75 179.28 L164.23 180.85 L165.70 182.42 L167.18 183.97 L168.65 185.50 L170.13 187.02 L171.60 188.53 L173.08 190.02 L174.55 191.48 L176.03 192.93 L177.50 194.36 L178.98 195.78 L180.45 197.17 L181.93 198.54 L183.40 199.89 L184.88 201.21 L186.35 202.52 L187.83 203.81 L189.30 205.08 L190.78 206.32 L192.25 207.55 L193.73 208.75 L195.20 209.94 L196.68 211.10 L198.15 212.25 L199.62 213.38 L201.10 214.48 L202.58 215.57 L204.05 216.64 L205.53 217.68 L207.00 218.72 L208.48 219.73 L209.95 220.72 L211.43 221.70 L212.90 222.66 L214.38 223.60 L215.85 224.53 L217.33 225.44 L218.80 226.33 L220.28 227.21 L221.75 228.07 L223.23 228.92 L224.70 229.75 L226.18 230.57 L227.65 231.37 L229.13 232.16 L230.60 232.94 L232.08 233.70 L233.55 234.45 L235.03 235.19 L236.50 235.91 L237.98 236.62 L239.45 237.32 L240.93 238.00 L242.40 238.68 L243.88 239.34 L245.35 239.99 L246.83 240.63 L248.30 241.26 L249.78 241.88 L251.25 242.49 L252.73 243.09 L254.20 243.68 L255.68 244.25 L257.15 244.82 L258.63 245.38 L260.10 245.93 L261.58 246.47 L263.05 247.01 L264.53 247.53 L266.00 248.05 L267.48 248.55 L268.95 249.05 L270.43 249.54 L271.90 250.03 L273.38 250.50 L274.85 250.97 L276.33 251.43 L277.80 251.88 L279.28 252.33 L280.75 252.77 L282.23 253.20 L283.70 253.62 L285.18 254.04 L286.65 254.46 L288.13 254.86 L289.60 255.26 L291.08 255.66 L292.55 256.04 L294.03 256.43 L295.50 256.80 L296.98 257.17 L298.45 257.54 L299.93 257.90 L301.40 258.25 L302.88 258.60 L304.35 258.95 L305.83 259.29 L307.30 259.62 L308.78 259.95 L310.25 260.28 L311.73 260.60 L313.20 260.91 L314.68 261.22 L316.15 261.53 L317.63 261.83 L319.10 262.13 L320.58 262.43 L322.05 262.72 L323.53 263.00 L325.00 263.28 L326.48 263.56 L327.95 263.84 L329.43 264.11 L330.90 264.37 L332.38 264.64 L333.85 264.90 L335.33 265.15 L336.80 265.41 L338.28 265.65 L339.75 265.90 L341.23 266.14 L342.70 266.38 L344.18 266.62 L345.65 266.85 L347.13 267.08 L348.60 267.31 L350.08 267.54 L351.55 267.76 L353.03 267.98 L354.50 268.19 L355.98 268.41 L357.45 268.62 L358.93 268.82 L360.40 269.03 L361.88 269.23 L363.35 269.43 L364.83 269.63 L366.30 269.83 L367.78 270.02 L369.25 270.21 L370.73 270.40 L372.20 270.58 L373.68 270.77 L375.15 270.95 L376.63 271.13 L378.10 271.30 L379.58 271.48 L381.05 271.65 L382.53 271.82 L384.00 271.99 L385.48 272.16 L386.95 272.32 L388.43 272.49 L389.90 272.65 L391.38 272.81 L392.85 272.96 L394.33 273.12 L395.80 273.27 L397.28 273.42 L398.75 273.57 L400.22 273.72 L401.70 273.87 L403.18 274.02 L404.65 274.16 L406.12 274.30 L407.60 274.44 L409.07 274.58 L410.55 274.72 L412.02 274.85 L413.50 274.99 L414.98 275.12 L416.45 275.25 L417.93 275.38 L419.40 275.51 L420.88 275.64 L422.35 275.76 L423.82 275.89 L425.30 276.01 L426.78 276.13 L428.25 276.25 L429.73 276.37 L431.20 276.49" stroke="#00ff00" stroke-width="1.2" stroke-dasharray="2.9 2.38" stroke-dashoffset="1.475"/>
<path d="M71.30 292.90 L71.30 292.90 L72.78 292.88 L74.25 292.79 L75.73 292.54 L77.20 292.02 L78.68 291.09 L80.15 289.65 L81.62 287.65 L83.10 285.06 L84.58 281.91 L86.05 278.27 L87.53 274.22 L89.00 269.84 L90.47 265.24 L91.95 260.52 L93.43 255.76 L94.90 251.05 L96.38 246.44 L97.85 242.00 L99.33 237.78 L100.80 233.80 L102.28 230.08 L103.75 226.66 L105.23 223.52 L106.70 220.69 L108.18 218.14 L109.65 215.89 L111.12 213.92 L112.60 212.21 L114.08 210.76 L115.55 209.55 L117.03 208.56 L118.50 207.78 L119.98 207.20 L121.45 206.80 L122.93 206.57 L124.40 206.48 L125.88 206.53 L127.35 206.71 L128.83 207.00 L130.30 207.39 L131.78 207.87 L133.25 208.43 L134.73 209.06 L136.20 209.76 L137.68 210.51 L139.15 211.31 L140.63 212.16 L142.10 213.03 L143.58 213.94 L145.05 214.88 L146.53 215.83 L148.00 216.81 L149.48 217.79 L150.95 218.79 L152.43 219.79 L153.90 220.80 L155.38 221.81 L156.85 222.82 L158.33 223.83 L159.80 224.83 L161.28 225.83 L162.75 226.82 L164.23 227.81 L165.70 228.78 L167.18 229.75 L168.65 230.70 L170.13 231.65 L171.60 232.58 L173.08 233.50 L174.55 234.41 L176.03 235.31 L177.50 236.19 L178.98 237.06 L180.45 237.91 L181.93 238.76 L183.40 239.59 L184.88 240.40 L186.35 241.20 L187.83 241.99 L189.30 242.76 L190.78 243.52 L192.25 244.27 L193.73 245.00 L195.20 245.72 L196.68 246.43 L198.15 247.13 L199.62 247.81 L201.10 248.48 L202.58 249.13 L204.05 249.78 L205.53 250.41 L207.00 251.03 L208.48 251.64 L209.95 252.24 L211.43 252.83 L212.90 253.40 L214.38 253.97 L215.85 254.52 L217.33 255.07 L218.80 255.60 L220.28 256.12 L221.75 256.64 L223.23 257.14 L224.70 257.64 L226.18 258.12 L227.65 258.60 L229.13 259.07 L230.60 259.53 L232.08 259.98 L233.55 260.42 L235.03 260.85 L236.50 261.28 L237.98 261.70 L239.45 262.11 L240.93 262.51 L242.40 262.91 L243.88 263.30 L245.35 263.68 L246.83 264.06 L248.30 264.42 L249.78 264.79 L251.25 265.14 L252.73 265.49 L254.20 265.83 L255.68 266.17 L257.15 266.50 L258.63 266.83 L260.10 267.15 L261.58 267.46 L263.05 267.77 L264.53 268.07 L266.00 268.37 L267.48 268.67 L268.95 268.95 L270.43 269.24 L271.90 269.52 L273.38 269.79 L274.85 270.06 L276.33 270.32 L277.80 270.59 L279.28 270.84 L280.75 271.09 L282.23 271.34 L283.70 271.59 L285.18 271.83 L286.65 272.06 L288.13 272.29 L289.60 272.52 L291.08 272.75 L292.55 272.97 L294.03 273.19 L295.50 273.40 L296.98 273.61 L298.45 273.82 L299.93 274.02 L301.40 274.23 L302.88 274.42 L304.35 274.62 L305.83 274.81 L307.30 275.00 L308.78 275.19 L310.25 275.37 L311.73 275.55 L313.20 275.73 L314.68 275.91 L316.15 276.08 L317.63 276.25 L319.10 276.42 L320.58 276.58 L322.05 276.75 L323.53 276.91 L325.00 277.06 L326.48 277.22 L327.95 277.37 L329.43 277.53 L330.90 277.68 L332.38 277.82 L333.85 277.97 L335.33 278.11 L336.80 278.25 L338.28 278.39 L339.75 278.53 L341.23 278.67 L342.70 278.80 L344.18 278.93 L345.65 279.06 L347.13 279.19 L348.60 279.32 L350.08 279.44 L351.55 279.56 L353.03 279.68 L354.50 279.80 L355.98 279.92 L357.45 280.04 L358.93 280.15 L360.40 280.27 L361.88 280.38 L363.35 280.49 L364.83 280.60 L366.30 280.71 L367.78 280.81 L369.25 280.92 L370.73 281.02 L372.20 281.13 L373.68 281.23 L375.15 281.33 L376.63 281.43 L378.10 281.52 L379.58 281.62 L381.05 281.71 L382.53 281.81 L384.00 281.90 L385.48 281.99 L386.95 282.08 L388.43 282.17 L389.90 282.26 L391.38 282.35 L392.85 282.43 L394.33 282.52 L395.80 282.60 L397.28 282.69 L398.75 282.77 L400.22 282.85 L401.70 282.93 L403.18 283.01 L404.65 283.09 L406.12 283.16 L407.60 283.24 L409.07 283.32 L410.55 283.39 L412.02 283.46 L413.50 283.54 L414.98 283.61 L416.45 283.68 L417.93 283.75 L419.40 283.82 L420.88 283.89 L422.35 283.96 L423.82 284.03 L425.30 284.09 L426.78 284.16 L428.25 284.22 L429.73 284.29 L431.20 284.35" stroke="#000000" stroke-width="1.2"/>
</g>
<text x="59.9" y="299.40" text-anchor="end" class="tl">0</text>
<text x="59.9" y="216.60" text-anchor="end" class="tl">0.1</text>
<text x="59.9" y="133.80" text-anchor="end" class="tl">0.2</text>
<text x="59.9" y="51.00" text-anchor="end" class="tl">0.3</text>
<text x="62.45" y="312.5" text-anchor="middle" class="tl">0</text>
<text x="209.95" y="312.5" text-anchor="middle" class="tl">2</text>
<text x="357.45" y="312.5" text-anchor="middle" class="tl">4</text>
<text x="367.3" y="34.15" class="lg">x=0.0</text>
<text x="367.3" y="51.97" class="lg">x=0.1</text>
<text x="367.3" y="69.79" class="lg">x=0.2</text>
<text x="367.3" y="87.61" class="lg">x=0.3</text>
<text x="367.3" y="105.43" class="lg">x=0.4</text>
<text x="367.3" y="123.25" class="lg">x=0.5</text>
<text x="367.3" y="141.07" class="lg">x=0.6</text>
<text x="367.3" y="158.89" class="lg">x=0.7</text>
<text x="367.3" y="176.71" class="lg">x=0.8</text>
<text x="367.3" y="194.53" class="lg">x=0.9</text>
<text x="297.3" y="329.7" text-anchor="middle" class="tl">T</text>
<text transform="translate(17.6 118.7) rotate(-90)" class="tl">C/N<tspan dy="4.3" font-size="12.8">spin</tspan></text>
</svg>
</body></html>
